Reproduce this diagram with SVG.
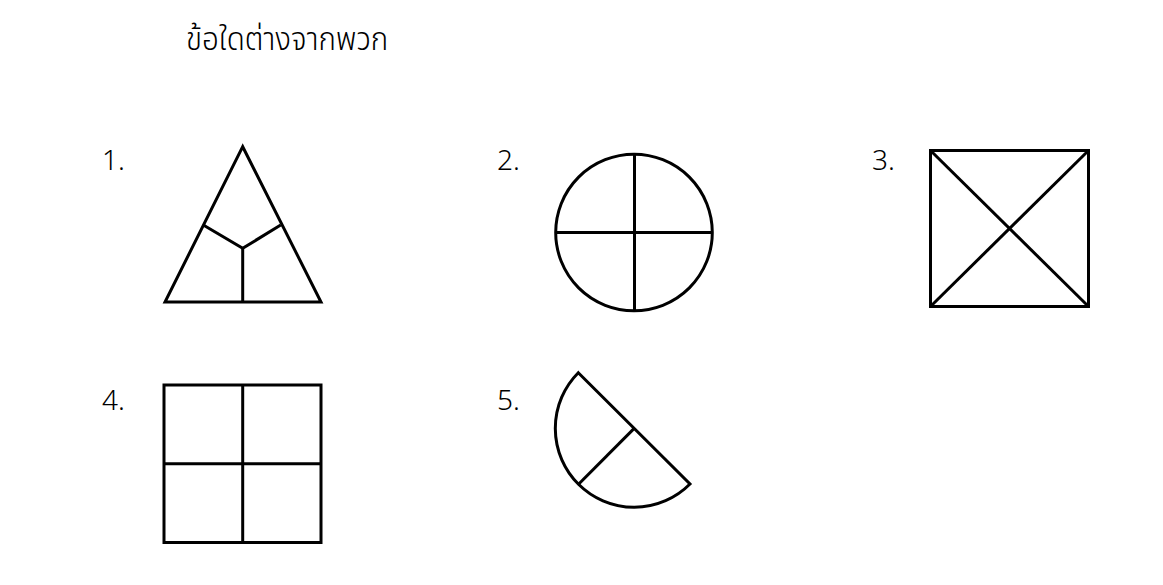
<svg xmlns="http://www.w3.org/2000/svg" width="1163" height="585" viewBox="0 0 1163 585">
<style>
.s{fill:none;stroke:#000;stroke-width:3;stroke-linejoin:miter}
.n{font-family:"Noto Sans","Open Sans","Liberation Sans",sans-serif;font-size:28px;font-weight:300;fill:#000}
.t{font-family:"Noto Sans Thai","Noto Sans","DejaVu Sans",sans-serif;font-size:29px;font-weight:300;fill:#000}
</style>
<rect width="1163" height="585" fill="#fff"/>
<text class="t" x="0" y="0" transform="translate(186,50) scale(1.02,1.12)">ข้อใดต่างจากพวก</text>
<g id="fig1">
<text class="n" x="102" y="170">1.</text>
<polygon class="s" points="242.7,146.7 165,302 321,302"/>
<polyline class="s" points="203.3,225 242.7,248.3 280.7,225"/>
<line class="s" x1="242.7" y1="248.3" x2="242.7" y2="302"/>
</g>
<g id="fig2">
<text class="n" x="497" y="170">2.</text>
<circle class="s" cx="634" cy="232.5" r="78.3"/>
<line class="s" x1="634.5" y1="154.2" x2="634.5" y2="310.8"/>
<line class="s" x1="555.7" y1="232.5" x2="712.3" y2="232.5"/>
</g>
<g id="fig3">
<text class="n" x="872" y="170">3.</text>
<rect class="s" x="930.5" y="150.5" width="158" height="156"/>
<line class="s" x1="930.5" y1="150.5" x2="1088.5" y2="306.5"/>
<line class="s" x1="1088.5" y1="150.5" x2="930.5" y2="306.5"/>
</g>
<g id="fig4">
<text class="n" x="102" y="410">4.</text>
<rect class="s" x="164" y="385" width="157" height="157.5"/>
<line class="s" x1="242.7" y1="385" x2="242.7" y2="542.5"/>
<line class="s" x1="164" y1="463.7" x2="321" y2="463.7"/>
</g>
<g id="fig5">
<text class="n" x="497" y="410">5.</text>
<path class="s" d="M578.3,372.7 L690,484 A78.8,78.8 0 0 1 578.3,372.7 Z"/>
<line class="s" x1="634.2" y1="428.4" x2="578.5" y2="484.2"/>
</g>
</svg>
